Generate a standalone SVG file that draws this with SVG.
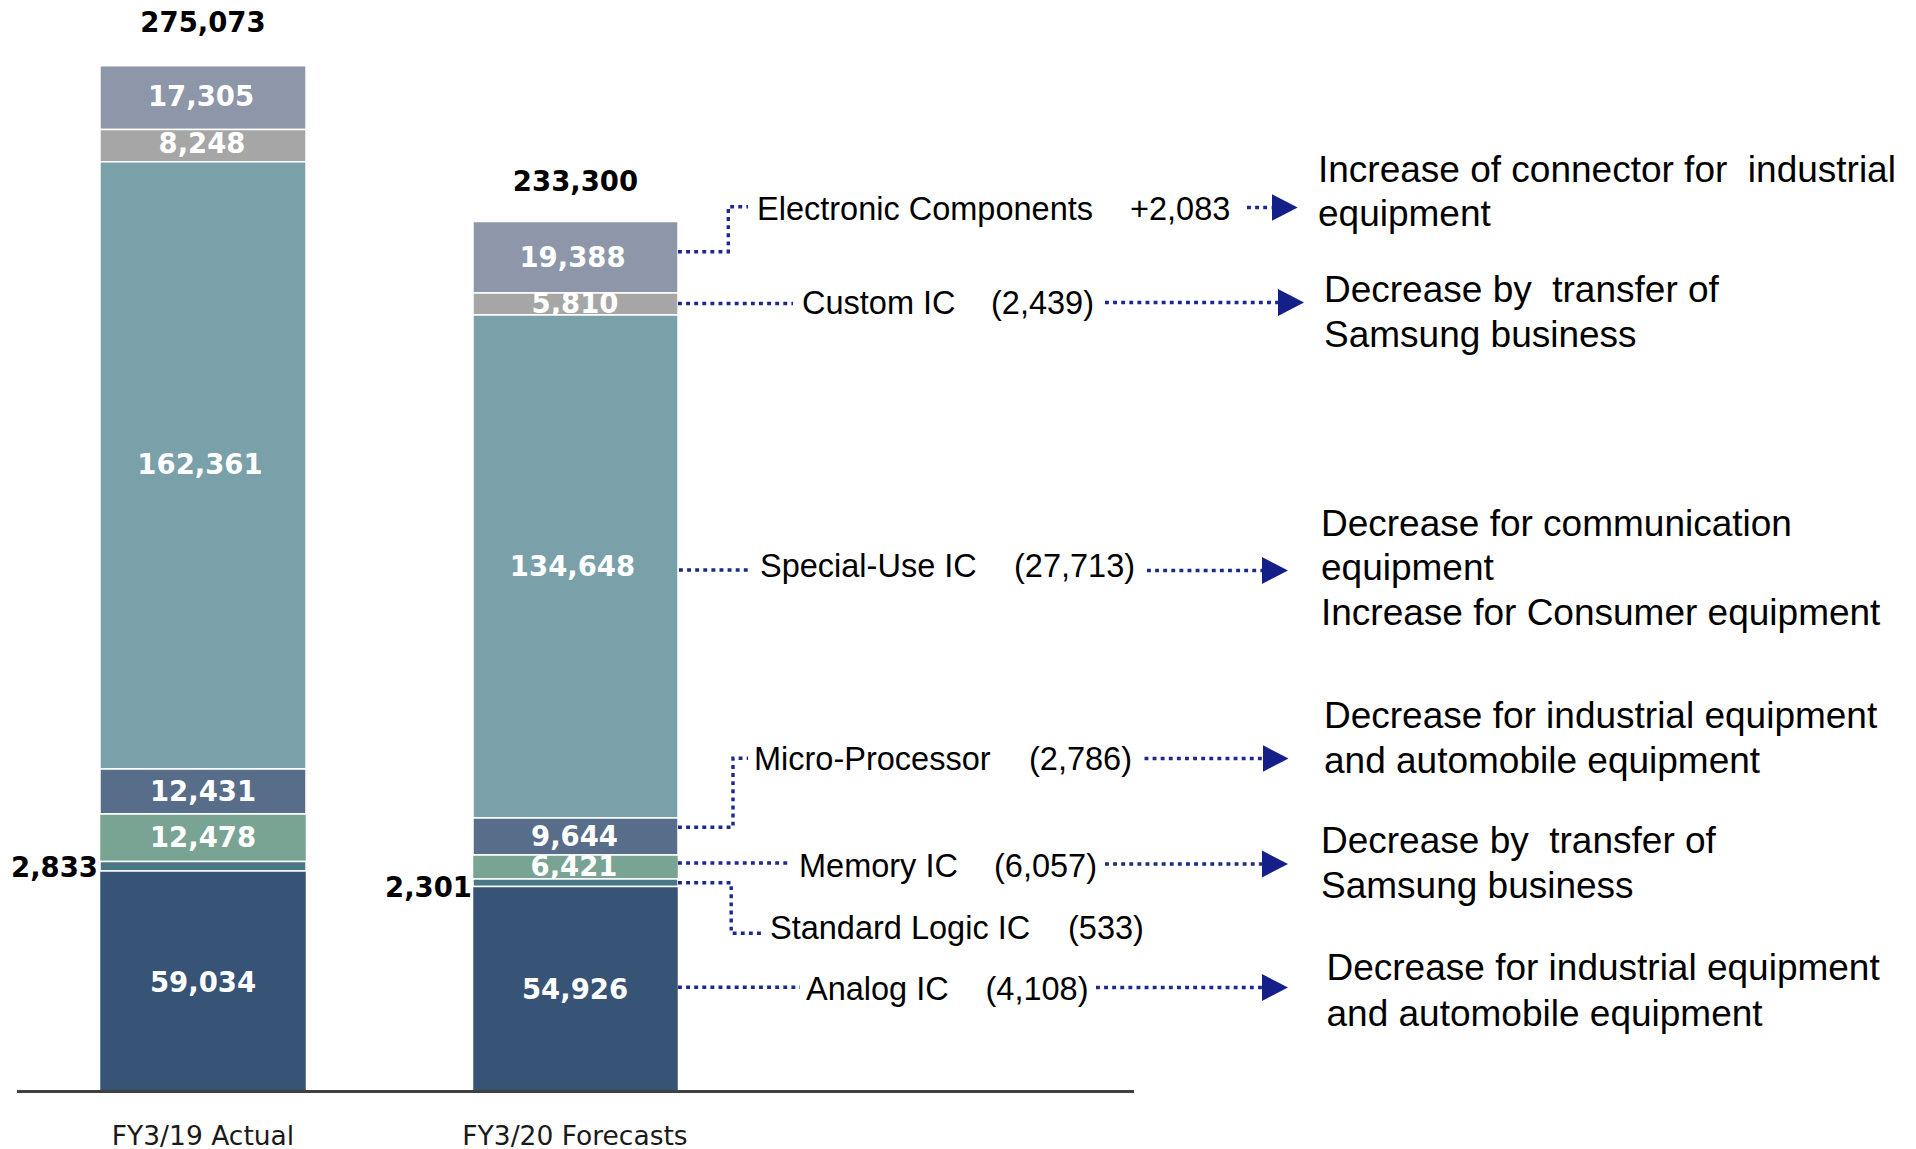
<svg xmlns="http://www.w3.org/2000/svg" width="1916" height="1149" viewBox="0 0 1916 1149">
  <defs>
    <style>
      .seg { stroke: #ffffff; stroke-width: 1.5; }
      .s-elec { fill: #8D97A9; }
      .s-custom { fill: #A6A6A6; }
      .s-special { fill: #7AA0AA; }
      .s-micro { fill: #576D8A; }
      .s-memory { fill: #79A393; }
      .s-logic { fill: #4A7686; }
      .s-analog { fill: #375376; }
      .val { font-family: "DejaVu Sans", Verdana, sans-serif; font-weight: bold; font-size: 27.5px; fill: #ffffff; text-anchor: middle; }
      .tot { font-family: "DejaVu Sans", Verdana, sans-serif; font-weight: bold; font-size: 27.5px; fill: #000000; }
      .axis-lbl { font-family: "DejaVu Sans", Verdana, sans-serif; font-size: 26.5px; fill: #1a1a1a; text-anchor: middle; }
      .cat { font-family: "Liberation Sans", Arial, sans-serif; font-size: 32.5px; fill: #000000; }
      .note { font-family: "Liberation Sans", Arial, sans-serif; font-size: 37px; fill: #000000; }
      .dot { fill: none; stroke: #1B2A8C; stroke-width: 3.4; stroke-dasharray: 3.9 4.2; }
      .dot-arrow { marker-end: url(#arrowhead); }
    </style>
    <marker id="arrowhead" viewBox="0 -14 27 28" refX="0" refY="0" markerWidth="27" markerHeight="28" markerUnits="userSpaceOnUse" orient="auto">
      <path d="M0,-13.5 L26,0 L0,13.5 Z" fill="#141F88"/>
    </marker>
  </defs>

  <rect x="0" y="0" width="1916" height="1149" fill="#ffffff"/>

  <!-- FY3/19 stacked bar -->
  <g id="bar-fy19">
    <g id="fy19-electronic-components"><rect class="seg s-elec" x="100" y="65.7" width="206" height="63.8"/><text class="val" x="201" y="106">17,305</text></g>
    <g id="fy19-custom-ic"><rect class="seg s-custom" x="100" y="129.5" width="206" height="32.3"/><text class="val" x="202" y="153">8,248</text></g>
    <g id="fy19-special-use-ic"><rect class="seg s-special" x="100" y="161.8" width="206" height="607.2"/><text class="val" x="200" y="474">162,361</text></g>
    <g id="fy19-micro-processor"><rect class="seg s-micro" x="100" y="769" width="206" height="45"/><text class="val" x="203" y="801">12,431</text></g>
    <g id="fy19-memory-ic"><rect class="seg s-memory" x="99.5" y="814" width="207" height="47.5"/><text class="val" x="203" y="847">12,478</text></g>
    <g id="fy19-standard-logic-ic"><rect class="seg s-logic" x="100" y="861.5" width="206" height="9.5"/><text class="tot" x="98" y="877" text-anchor="end">2,833</text></g>
    <g id="fy19-analog-ic"><rect class="seg s-analog" x="99.5" y="871" width="207" height="220"/><text class="val" x="203" y="992">59,034</text></g>
    <text class="tot" x="203" y="32" text-anchor="middle">275,073</text>
  </g>

  <!-- FY3/20 stacked bar -->
  <g id="bar-fy20">
    <g id="fy20-electronic-components"><rect class="seg s-elec" x="473" y="221.5" width="205" height="71.5"/><text class="val" x="572.5" y="267">19,388</text></g>
    <g id="fy20-custom-ic"><rect class="seg s-custom" x="473" y="293" width="205" height="22"/><text class="val" x="575" y="313">5,810</text></g>
    <g id="fy20-special-use-ic"><rect class="seg s-special" x="473" y="315" width="205" height="503"/><text class="val" x="572.5" y="575.5">134,648</text></g>
    <g id="fy20-micro-processor"><rect class="seg s-micro" x="473" y="818" width="205" height="37"/><text class="val" x="574.5" y="846">9,644</text></g>
    <g id="fy20-memory-ic"><rect class="seg s-memory" x="472.5" y="855" width="206" height="24"/><text class="val" x="574" y="876">6,421</text></g>
    <g id="fy20-standard-logic-ic"><rect class="seg s-logic" x="473" y="879" width="205" height="7.5"/><text class="tot" x="472" y="897" text-anchor="end">2,301</text></g>
    <g id="fy20-analog-ic"><rect class="seg s-analog" x="472.5" y="886.5" width="206" height="204.5"/><text class="val" x="575" y="999">54,926</text></g>
    <text class="tot" x="575.5" y="191" text-anchor="middle">233,300</text>
  </g>

  <!-- category axis -->
  <g id="axis">
    <line x1="17" y1="1091.5" x2="1134" y2="1091.5" stroke="#404040" stroke-width="3"/>
    <text class="axis-lbl" x="203" y="1144.5">FY3/19 Actual</text>
    <text class="axis-lbl" x="575" y="1144.5">FY3/20 Forecasts</text>
  </g>

  <!-- dotted leader lines and arrows -->
  <g id="connectors">
    <path class="dot" d="M678,251.7 H728.3 V206.7 H748"/>
    <path class="dot dot-arrow" d="M1247,207.5 H1271.7"/>
    <path class="dot" d="M678,303.5 H793"/>
    <path class="dot dot-arrow" d="M1105,302.5 H1278"/>
    <path class="dot" d="M679,570 H751"/>
    <path class="dot dot-arrow" d="M1147,570.5 H1262"/>
    <path class="dot" d="M678,827.3 H733 V758.3 H748"/>
    <path class="dot dot-arrow" d="M1144.5,758.5 H1262.5"/>
    <path class="dot" d="M678,863 H791"/>
    <path class="dot dot-arrow" d="M1105,864 H1262"/>
    <path class="dot" d="M678,882.7 H731.2 V933.3 H761"/>
    <path class="dot" d="M678,987.3 H800"/>
    <path class="dot dot-arrow" d="M1096,987.5 H1262"/>
  </g>

  <!-- category change labels -->
  <g id="label-electronic-components"><text class="cat" x="757" y="220">Electronic Components<tspan x="1130">+2,083</tspan></text></g>
  <g id="label-custom-ic"><text class="cat" x="802" y="314">Custom IC<tspan x="991">(2,439)</tspan></text></g>
  <g id="label-special-use-ic"><text class="cat" x="760" y="577">Special-Use IC<tspan x="1014">(27,713)</tspan></text></g>
  <g id="label-micro-processor"><text class="cat" x="754" y="770">Micro-Processor<tspan x="1029">(2,786)</tspan></text></g>
  <g id="label-memory-ic"><text class="cat" x="799" y="877">Memory IC<tspan x="994">(6,057)</tspan></text></g>
  <g id="label-standard-logic-ic"><text class="cat" x="770" y="939">Standard Logic IC<tspan x="1068">(533)</tspan></text></g>
  <g id="label-analog-ic"><text class="cat" x="806" y="1000">Analog IC<tspan x="985.5">(4,108)</tspan></text></g>

  <!-- explanations -->
  <g id="note-electronic-components">
    <text class="note" xml:space="preserve" x="1318" y="182">Increase of connector for  industrial</text>
    <text class="note" x="1318" y="226">equipment</text>
  </g>
  <g id="note-custom-ic">
    <text class="note" xml:space="preserve" x="1324" y="302">Decrease by  transfer of</text>
    <text class="note" x="1324" y="346.5">Samsung business</text>
  </g>
  <g id="note-special-use-ic">
    <text class="note" x="1321" y="535.5">Decrease for communication</text>
    <text class="note" x="1321" y="580">equipment</text>
    <text class="note" x="1321" y="624.5">Increase for Consumer equipment</text>
  </g>
  <g id="note-micro-processor">
    <text class="note" x="1324" y="727.5">Decrease for industrial equipment</text>
    <text class="note" x="1324" y="773">and automobile equipment</text>
  </g>
  <g id="note-memory-ic">
    <text class="note" xml:space="preserve" x="1321" y="853">Decrease by  transfer of</text>
    <text class="note" x="1321" y="897.5">Samsung business</text>
  </g>
  <g id="note-analog-ic">
    <text class="note" x="1326.5" y="980">Decrease for industrial equipment</text>
    <text class="note" x="1326.5" y="1025.5">and automobile equipment</text>
  </g>
</svg>
